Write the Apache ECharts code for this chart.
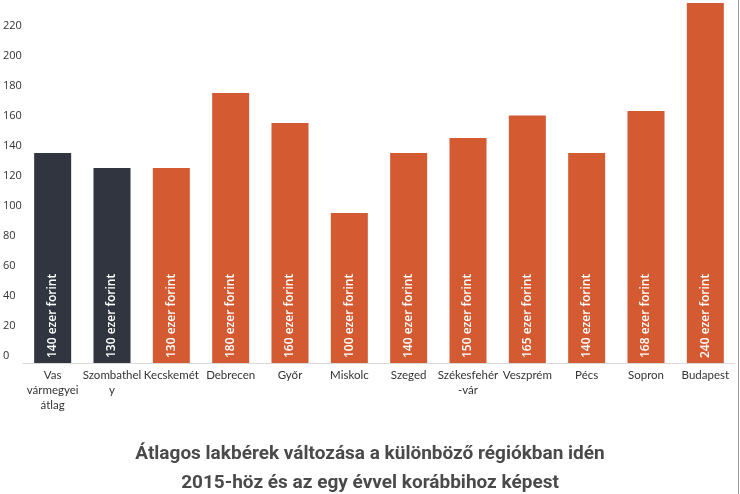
<!DOCTYPE html>
<html><head><meta charset="utf-8">
<script src="https://cdn.jsdelivr.net/npm/echarts@6/dist/echarts.min.js"></script>
<style>html,body{margin:0;padding:0;background:#fff}#c{width:740px;height:494px}</style>
</head><body><div id="c"></div>
<script>
const categories = ['Vas\nvármegyei\nátlag','Szombathel\ny','Kecskemét','Debrecen','Győr','Miskolc','Szeged','Székesfehér\n-vár','Veszprém','Pécs','Sopron','Budapest'];
const values = [140,130,130,180,160,100,140,150,165,140,168,240];
const barLabels = ['140 ezer forint','130 ezer forint','130 ezer forint','180 ezer forint','160 ezer forint','100 ezer forint','140 ezer forint','150 ezer forint','165 ezer forint','140 ezer forint','168 ezer forint','240 ezer forint'];
const highlighted = [true,true,false,false,false,false,false,false,false,false,false,false];
const titleText = 'Átlagos lakbérek változása a különböző régiókban idén\n2015-höz és az egy évvel korábbihoz képest';

const DARK = '#30353f', ORANGE = '#d35a31';
const chart = echarts.init(document.getElementById('c'), null, {renderer:'canvas'});
chart.setOption({
  animation:false,
  title:{text:titleText,left:'center',top:435,textStyle:{fontFamily:'Roboto',fontWeight:'bold',fontSize:19,color:'#4a4a4a',lineHeight:29}},
  grid:{left:23,right:5,top:3,height:360,containLabel:false,outerBoundsMode:'none'},
  graphic:[{type:'line',shape:{x1:738.5,y1:0,x2:738.5,y2:494},style:{stroke:'#9a9a9a',lineWidth:1},silent:true}],
  xAxis:{type:'category',data:categories,
    axisLine:{lineStyle:{color:'#d9d9d9'}},axisTick:{show:false},
    axisLabel:{interval:0,fontFamily:'Lato',fontSize:11.5,color:'#333',lineHeight:15,margin:5}},
  yAxis:{type:'value',min:0,max:240,interval:20,
    splitLine:{show:false},axisLine:{show:false},axisTick:{show:false},
    axisLabel:{align:'left',margin:20,verticalAlign:'bottom',padding:[0,0,2,0],fontFamily:'Open Sans',fontSize:11,color:'#333'}},
  series:[{type:'bar',barWidth:37,
    data:values.map((v,i)=>({value:v,itemStyle:{color:highlighted[i]?DARK:ORANGE}})),
    label:{show:true,position:'insideBottom',rotate:90,align:'left',verticalAlign:'middle',distance:5,
      formatter:p=>barLabels[p.dataIndex],
      fontFamily:'Open Sans',fontSize:12,fontWeight:600,color:'#fff'}}]
});
</script></body></html>
